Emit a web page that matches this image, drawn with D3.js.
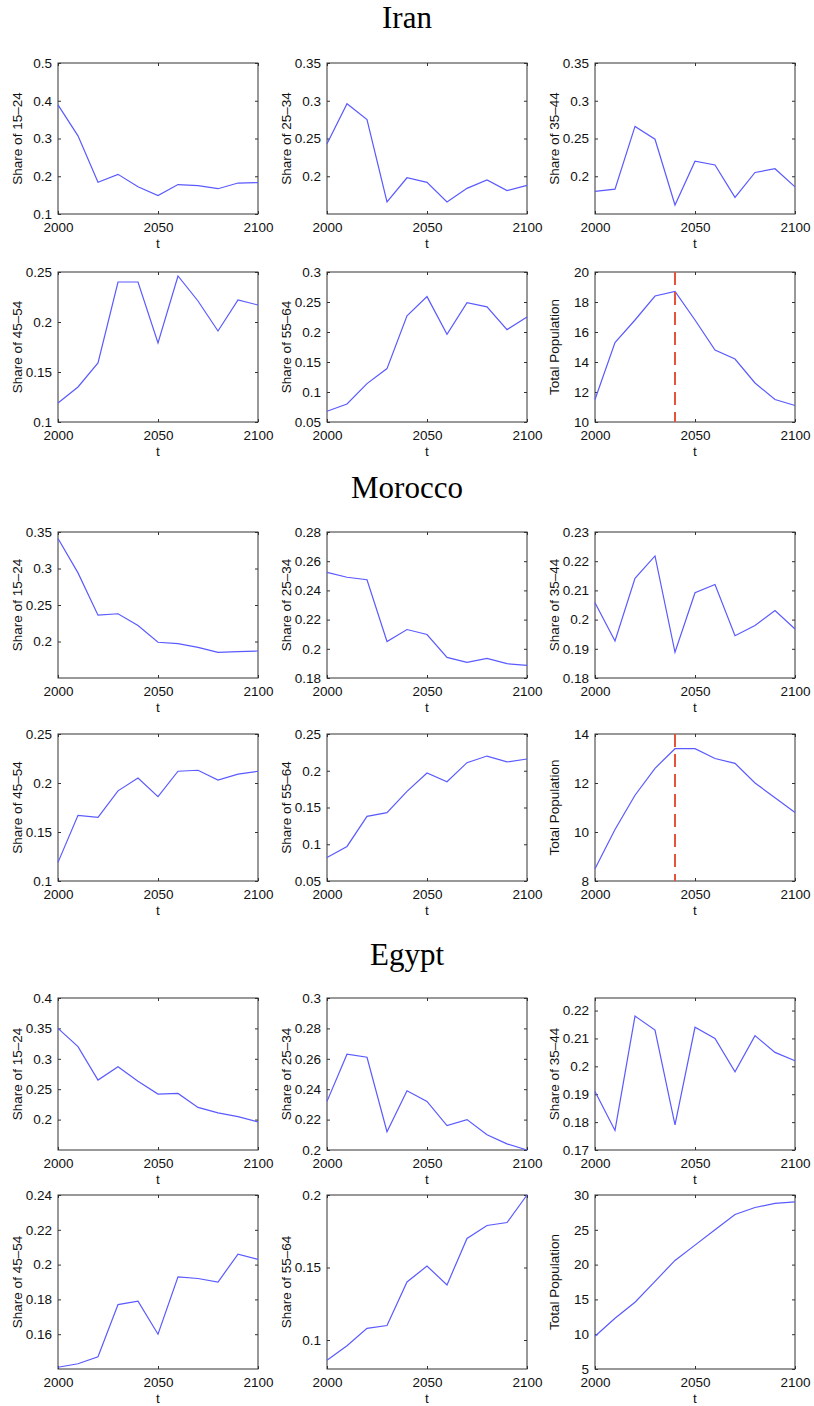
<!DOCTYPE html>
<html>
<head>
<meta charset="utf-8">
<script src="https://cdn.jsdelivr.net/npm/d3@7"></script>
<style>
  body { margin: 0; background: #fff; }
  text { font-family: "Liberation Sans", Arial, sans-serif; }
</style>
</head>
<body>
<svg width="814" height="1406"></svg>
<script>
const years = [2000, 2010, 2020, 2030, 2040, 2050, 2060, 2070, 2080, 2090, 2100];
const countries = ["Iran", "Morocco", "Egypt"];
const panelLabels = ["Share of 15–24", "Share of 25–34", "Share of 35–44",
                     "Share of 45–54", "Share of 55–64", "Total Population"];
const xTicks = [2000, 2050, 2100];

// Iran
const iran15 = [0.389, 0.307, 0.184, 0.205, 0.172, 0.149, 0.178, 0.175, 0.167, 0.182, 0.183];
const iran25 = [0.243, 0.296, 0.275, 0.166, 0.198, 0.192, 0.166, 0.184, 0.195, 0.181, 0.188];
const iran35 = [0.180, 0.183, 0.266, 0.249, 0.162, 0.220, 0.215, 0.172, 0.205, 0.210, 0.186];
const iran45 = [0.119, 0.135, 0.159, 0.240, 0.240, 0.179, 0.246, 0.221, 0.191, 0.222, 0.217];
const iran55 = [0.068, 0.080, 0.114, 0.139, 0.227, 0.259, 0.196, 0.249, 0.242, 0.204, 0.225];
const iranPop = [11.5, 15.3, 16.8, 18.4, 18.7, 16.8, 14.8, 14.2, 12.6, 11.5, 11.1];
const iranDomains = [[0.1, 0.5], [0.15, 0.35], [0.15, 0.35], [0.1, 0.25], [0.05, 0.3], [10, 20]];
const iranTicks = [
  [0.1, 0.2, 0.3, 0.4, 0.5],
  [0.2, 0.25, 0.3, 0.35],
  [0.2, 0.25, 0.3, 0.35],
  [0.1, 0.15, 0.2, 0.25],
  [0.05, 0.1, 0.15, 0.2, 0.25, 0.3],
  [10, 12, 14, 16, 18, 20]
];
const iranPeak = 2040;

// Morocco
const morocco15 = [0.341, 0.294, 0.236, 0.238, 0.222, 0.199, 0.197, 0.192, 0.185, 0.186, 0.187];
const morocco25 = [0.2523, 0.249, 0.2473, 0.205, 0.2132, 0.2098, 0.1941, 0.1907, 0.1934, 0.1898, 0.1886];
const morocco35 = [0.2058, 0.1927, 0.2141, 0.2218, 0.1888, 0.2092, 0.2120, 0.1945, 0.1980, 0.2031, 0.1968];
const morocco45 = [0.119, 0.167, 0.165, 0.192, 0.205, 0.186, 0.212, 0.213, 0.203, 0.209, 0.212];
const morocco55 = [0.082, 0.097, 0.138, 0.143, 0.172, 0.197, 0.185, 0.211, 0.220, 0.212, 0.216];
const moroccoPop = [8.5, 10.1, 11.5, 12.6, 13.4, 13.4, 13.0, 12.8, 12.0, 11.4, 10.8];
const moroccoDomains = [[0.15, 0.35], [0.18, 0.28], [0.18, 0.23], [0.1, 0.25], [0.05, 0.25], [8, 14]];
const moroccoTicks = [
  [0.2, 0.25, 0.3, 0.35],
  [0.18, 0.2, 0.22, 0.24, 0.26, 0.28],
  [0.18, 0.19, 0.2, 0.21, 0.22, 0.23],
  [0.1, 0.15, 0.2, 0.25],
  [0.05, 0.1, 0.15, 0.2, 0.25],
  [8, 10, 12, 14]
];
const moroccoPeak = 2040;

// Egypt
const egypt15 = [0.350, 0.320, 0.265, 0.287, 0.263, 0.242, 0.243, 0.220, 0.211, 0.205, 0.196];
const egypt25 = [0.232, 0.263, 0.261, 0.212, 0.239, 0.232, 0.216, 0.220, 0.210, 0.204, 0.200];
const egypt35 = [0.191, 0.177, 0.218, 0.213, 0.179, 0.214, 0.210, 0.198, 0.211, 0.205, 0.202];
const egypt45 = [0.141, 0.143, 0.147, 0.177, 0.179, 0.160, 0.193, 0.192, 0.190, 0.206, 0.203];
const egypt55 = [0.086, 0.096, 0.108, 0.110, 0.140, 0.151, 0.138, 0.170, 0.179, 0.181, 0.200];
const egyptPop = [9.7, 12.3, 14.6, 17.6, 20.6, 22.8, 25.0, 27.2, 28.2, 28.8, 29.0];
const egyptDomains = [[0.15, 0.4], [0.2, 0.3], [0.17, 0.2245], [0.14, 0.24], [0.08, 0.2], [5, 30]];
const egyptTicks = [
  [0.2, 0.25, 0.3, 0.35, 0.4],
  [0.2, 0.22, 0.24, 0.26, 0.28, 0.3],
  [0.17, 0.18, 0.19, 0.2, 0.21, 0.22],
  [0.16, 0.18, 0.2, 0.22, 0.24],
  [0.1, 0.15, 0.2],
  [5, 10, 15, 20, 25, 30]
];
const egyptPeak = null;

const svg = d3.select("svg");
const colLeft = [58, 327, 595];
const panelW = 200;
const countryTitleY = [28, 498, 965];
const rowBoxes = [[63, 151], [272, 150], [532, 146], [734, 147], [998, 152], [1195, 174]];
const lineColor = "#5a5aff";

const groups = [
  { series: [iran15, iran25, iran35, iran45, iran55, iranPop], domains: iranDomains, ticks: iranTicks, peak: iranPeak },
  { series: [morocco15, morocco25, morocco35, morocco45, morocco55, moroccoPop], domains: moroccoDomains, ticks: moroccoTicks, peak: moroccoPeak },
  { series: [egypt15, egypt25, egypt35, egypt45, egypt55, egyptPop], domains: egyptDomains, ticks: egyptTicks, peak: egyptPeak }
];

groups.forEach((grp, ci) => {
  svg.append("text")
    .attr("x", 407)
    .attr("y", countryTitleY[ci])
    .attr("text-anchor", "middle")
    .style("font-family", "'Liberation Serif', 'DejaVu Serif', serif")
    .attr("font-size", 31)
    .text(countries[ci]);

  grp.series.forEach((values, pi) => {
    const [top, h] = rowBoxes[ci * 2 + Math.floor(pi / 3)];
    const left = colLeft[pi % 3];
    drawPanel(left, top, panelW, h, panelLabels[pi], values, grp.domains[pi], grp.ticks[pi],
      pi === 5 ? grp.peak : null);
  });
});

function drawPanel(left, top, w, h, label, values, domain, ticks, peak) {
  const g = svg.append("g").attr("transform", `translate(${left},${top})`);
  const x = d3.scaleLinear().domain([2000, 2100]).range([0, w]);
  const y = d3.scaleLinear().domain(domain).range([h, 0]);
  const fmt = d => String(d);

  const styleAxis = sel => {
    sel.select(".domain").remove();
    sel.selectAll("line").attr("stroke", "#333");
    sel.selectAll("text").attr("font-size", 13.5).attr("fill", "#111")
      .style("font-family", "'Liberation Sans', Arial, sans-serif");
  };

  g.append("g").call(d3.axisLeft(y).tickValues(ticks).tickFormat(fmt).tickSizeInner(-3).tickSizeOuter(0).tickPadding(6)).call(styleAxis);
  g.append("g").attr("transform", `translate(${w},0)`)
    .call(d3.axisRight(y).tickValues(ticks).tickFormat("").tickSizeInner(-3).tickSizeOuter(0)).call(styleAxis);
  g.append("g").attr("transform", `translate(0,${h})`)
    .call(d3.axisBottom(x).tickValues(xTicks).tickFormat(d3.format("d")).tickSizeInner(-3).tickSizeOuter(0).tickPadding(8)).call(styleAxis);
  g.append("g")
    .call(d3.axisTop(x).tickValues(xTicks).tickFormat("").tickSizeInner(-3).tickSizeOuter(0)).call(styleAxis);

  g.append("rect")
    .attr("width", w).attr("height", h)
    .attr("fill", "none").attr("stroke", "#333").attr("stroke-width", 1);

  const pts = years.map((yr, i) => ({ yr, v: values[i] }));
  g.append("path")
    .datum(pts)
    .attr("fill", "none")
    .attr("stroke", lineColor)
    .attr("stroke-width", 1.2)
    .attr("d", d3.line().x(d => x(d.yr)).y(d => y(d.v)));

  if (peak != null) {
    g.append("line")
      .attr("x1", x(peak)).attr("x2", x(peak))
      .attr("y1", y(domain[1])).attr("y2", y(domain[0]))
      .attr("stroke", "#e5533a")
      .attr("stroke-width", 2)
      .attr("stroke-dasharray", "13,7");
  }

  g.append("text")
    .attr("transform", `translate(${-36},${h / 2}) rotate(-90)`)
    .attr("text-anchor", "middle")
    .attr("font-size", 13.5)
    .attr("fill", "#111")
    .text(label);

  g.append("text")
    .attr("x", w / 2)
    .attr("y", h + 34)
    .attr("text-anchor", "middle")
    .attr("font-size", 13.5)
    .attr("fill", "#111")
    .text("t");
}
</script>
</body>
</html>
